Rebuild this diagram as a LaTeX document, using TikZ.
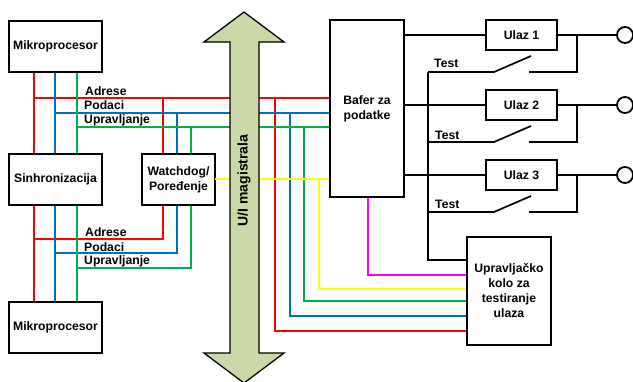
\documentclass[tikz,border=0pt]{standalone}
\usepackage{fontspec}
\setmainfont{Liberation Sans}
\usepackage{tikz}
\usetikzlibrary{calc}
\usetikzlibrary{positioning}

\definecolor{busred}{HTML}{FF0000}
\definecolor{busblue}{HTML}{0070C0}
\definecolor{busgreen}{HTML}{00B050}
\definecolor{busyellow}{HTML}{FFFF00}
\definecolor{busmagenta}{HTML}{FF00FF}
\definecolor{busfill}{HTML}{CBD9A9}

\tikzset{
  blockbox/.style={draw,rectangle,line width=2pt,fill=white,align=center,inner sep=0pt,font=\fontsize{12.2}{15}\selectfont\bfseries},
  buslabel/.style={inner sep=0pt,anchor=west,font=\fontsize{12.2}{14}\selectfont\bfseries},
  wire/.style={draw,line width=1.7pt,line join=miter},
  busline/.style={draw,line width=1.9pt},
  pin/.style={draw,circle,line width=1.8pt,fill=white,minimum size=16pt,inner sep=0pt},
}

\begin{document}
\begin{tikzpicture}[x=1pt,y=-1pt]

  \useasboundingbox (0,0) rectangle (633,381);

  \node [blockbox,minimum width=93pt,minimum height=51pt] (Mtop) at (55.5,46.5) {Mikroprocesor};
  \node [blockbox,minimum width=93pt,minimum height=51pt] (Sync) at (55.5,179.5) {Sinhronizacija};
  \node [blockbox,minimum width=93pt,minimum height=51pt] (Mbot) at (55.5,327.5) {Mikroprocesor};
  \node [blockbox,minimum width=73pt,minimum height=51pt] (Wdog) at (178.5,179.5) {Watchdog/\\Poređenje};
  \node [blockbox,minimum width=74pt,minimum height=177pt] (Buf) at (367,108.5) {Bafer za\\podatke};
  \node [blockbox,minimum width=71pt,minimum height=30pt] (In1) at (521.5,35) {Ulaz 1};
  \node [blockbox,minimum width=71pt,minimum height=30pt] (In2) at (521.5,105) {Ulaz 2};
  \node [blockbox,minimum width=71pt,minimum height=30pt] (In3) at (521.5,175) {Ulaz 3};
  \node [blockbox,minimum width=84pt,minimum height=108pt] (Test) at (509,291) {Upravljačko\\kolo za\\testiranje\\ulaza};

  \node [pin] (P1) at (625,35) {};
  \node [pin] (P2) at (625,105) {};
  \node [pin] (P3) at (625,175) {};

  % bus columns and rows
  \coordinate (Rl) at (34,98);
  \coordinate (Bl) at (55,113);
  \coordinate (Gl) at (77,127);
  \coordinate (Rm) at (163,239);
  \coordinate (Bm) at (177,253);
  \coordinate (Gm) at (191,268);
  \coordinate (Rr) at (275,331);
  \coordinate (Br) at (290,316);
  \coordinate (Gr) at (304,301);
  \coordinate (Yr) at (319,289);
  \coordinate (Yl) at (215,179);
  \coordinate (Mr) at (368,275);

  \path [busline,busred]
    (Mtop.south -| Rl) -- (Sync.north -| Rl)
    (Sync.south -| Rl) -- (Mbot.north -| Rl)
    (Rl) -- (Buf.west |- Rl)
    (Rl -| Rm) -- (Wdog.north -| Rm)
    (Rl |- Rm) -- (Rm) -- (Wdog.south -| Rm)
    (Rl -| Rr) -- (Rr) -- (Test.west |- Rr);
  \path [busline,busblue]
    (Mtop.south -| Bl) -- (Sync.north -| Bl)
    (Sync.south -| Bl) -- (Mbot.north -| Bl)
    (Bl) -- (Buf.west |- Bl)
    (Bl -| Bm) -- (Wdog.north -| Bm)
    (Bl |- Bm) -- (Bm) -- (Wdog.south -| Bm)
    (Bl -| Br) -- (Br) -- (Test.west |- Br);
  \path [busline,busgreen]
    (Mtop.south -| Gl) -- (Sync.north -| Gl)
    (Sync.south -| Gl) -- (Mbot.north -| Gl)
    (Gl) -- (Buf.west |- Gl)
    (Gl -| Gm) -- (Wdog.north -| Gm)
    (Gl |- Gm) -- (Gm) -- (Wdog.south -| Gm)
    (Gl -| Gr) -- (Gr) -- (Test.west |- Gr);
  \path [busline,busyellow]
    (Yl) -- (Buf.west |- Yl)
    (Yl -| Yr) -- (Yr) -- (Test.west |- Yr);
  \path [busline,busmagenta]
    (Buf.south -| Mr) -- (Mr) -- (Test.west |- Mr);

  % U/I bus arrow
  \path [draw,line width=1.3pt,fill=busfill,line join=miter]
    (244,12) -- (284,42) -- (259,42) -- (259,353) -- (284,353) -- (244,383)
    -- (204,353) -- (230,353) -- (230,42) -- (204,42) -- cycle;
  \node [rotate=90,inner sep=0pt,font=\fontsize{14}{16}\selectfont\bfseries] (BusLab) at (244,180.5) {U/I magistrala};

  \node [buslabel] (Aup) at (85,91) {Adrese};
  \node [buslabel] (Dup) at (84,105.5) {Podaci};
  \node [buslabel] (Cup) at (84,120) {Upravljanje};
  \node [buslabel] (Adn) at (85,232) {Adrese};
  \node [buslabel] (Ddn) at (84,247) {Podaci};
  \node [buslabel] (Cdn) at (84,261.5) {Upravljanje};
  \node [buslabel] (T1) at (434,63.5) {Test};
  \node [buslabel] (T2) at (435,135) {Test};
  \node [buslabel] (T3) at (435,204.5) {Test};

  % inputs and test switches
  \coordinate (Tv) at (428,72);
  \coordinate (Tc) at (428,260);
  \coordinate (Br1) at (577,72);
  \coordinate (Br2) at (577,142);
  \coordinate (Br3) at (577,212);
  \coordinate (Sa1) at (494,72);
  \coordinate (Sa2) at (494,142);
  \coordinate (Sa3) at (494,212);
  \coordinate (Sb1) at (531,56);
  \coordinate (Sb2) at (531,126);
  \coordinate (Sb3) at (531,196);
  \coordinate (Sc1) at (529,72);
  \coordinate (Sc2) at (529,142);
  \coordinate (Sc3) at (529,212);

  \path [wire]
    (Buf.east |- In1) -- (In1.west)
    (Buf.east |- In2) -- (In2.west)
    (Buf.east |- In3) -- (In3.west)
    (In1.east) -- (P1.west)
    (In2.east) -- (P2.west)
    (In3.east) -- (P3.west)
    (Br1 |- In1) -- (Br1) -- (Sc1)
    (Br2 |- In2) -- (Br2) -- (Sc2)
    (Br3 |- In3) -- (Br3) -- (Sc3)
    (Tv) -- (Sa1) -- (Sb1)
    (Tv |- Sa2) -- (Sa2) -- (Sb2)
    (Tv |- Sa3) -- (Sa3) -- (Sb3)
    (Tv) -- (Tc) -- (Test.west |- Tc);

\end{tikzpicture}
\end{document}
